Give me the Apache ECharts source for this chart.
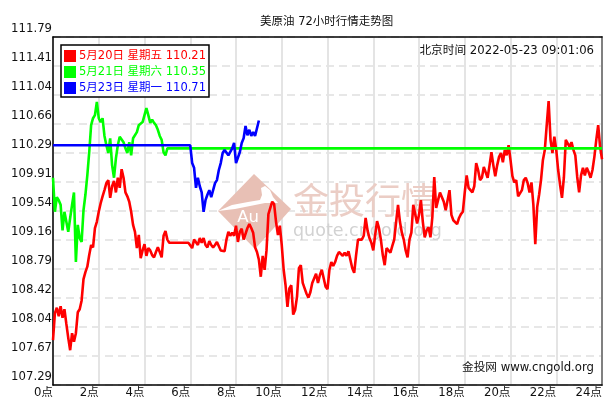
<!DOCTYPE html>
<html>
<head>
<meta charset="utf-8">
<style>html,body{margin:0;padding:0;background:#fff}#c{width:611px;height:405px}</style>
<script src="https://cdn.jsdelivr.net/npm/echarts@6/dist/echarts.min.js"></script>
</head>
<body>
<div id="c"></div>
<script>
const stepMinutes = 5;
const hourTicks = 120;
const legendNames = ['5月20日 星期五 110.21', '5月21日 星期六 110.35', '5月23日 星期一 110.71'];
const seriesColors = ['#ff0000', '#00ff00', '#0000ff'];
const yTickValues = [107.29,107.665,108.04,108.415,108.79,109.165,109.54,109.915,110.29,110.665,111.04,111.415,111.79];
const yTickLabels = ['107.29','107.67','108.04','108.42','108.79','109.16','109.54','109.91','110.29','110.66','111.04','111.41','111.79'];

const may20 = [
107.87,108.22,108.29,108.18,108.31,108.16,108.27,108.08,107.90,107.74,107.96,107.85,
107.96,108.23,108.27,108.38,108.66,108.75,108.82,108.97,109.10,109.07,109.32,109.40,
109.53,109.64,109.73,109.81,109.90,109.94,109.71,109.86,109.93,109.78,109.97,109.84,
110.08,109.97,109.78,109.73,109.66,109.53,109.36,109.27,109.06,109.23,108.93,109.03,
109.11,108.96,109.06,109.03,108.97,108.94,109.01,109.07,109.01,108.94,109.22,109.28,
109.17,109.13,109.13,109.13,109.13,109.13,109.13,109.13,109.13,109.13,109.13,109.13,
109.13,109.06,109.17,109.19,109.10,109.19,109.13,109.19,109.10,109.07,109.15,109.10,
109.07,109.10,109.14,109.14,109.03,109.03,109.02,109.17,109.27,109.22,109.26,109.22,
109.35,109.14,109.27,109.31,109.17,109.19,109.32,109.37,109.32,109.26,109.07,109.01,
108.91,108.69,108.96,108.78,109.03,109.50,109.58,109.66,109.63,109.40,109.23,109.35,
109.10,108.78,108.58,108.30,108.54,108.58,108.20,108.26,108.43,108.80,108.84,108.61,
108.54,108.47,108.42,108.49,108.61,108.60,108.73,108.61,108.71,108.78,108.78,108.56,
108.53,108.78,108.88,108.83,108.88,108.96,109.01,109.02,108.96,109.00,108.96,109.02,
109.03,108.80,108.74,108.97,109.17,109.19,109.17,109.22,109.45,109.29,109.19,109.13,
109.03,109.23,109.41,109.32,109.17,108.97,108.84,109.06,109.03,109.00,109.09,109.17,
109.40,109.62,109.40,109.26,109.17,109.03,108.94,109.17,109.26,109.62,109.64,109.38,
109.49,109.68,109.40,109.20,109.29,109.33,109.20,109.46,109.98,109.58,109.68,109.78,
109.77,109.66,109.55,109.68,109.81,109.49,109.42,109.44,109.37,109.45,109.50,109.53,
109.78,110.00,109.84,109.81,109.78,109.86,110.16,110.07,109.94,109.97,110.11,110.04,
109.97,110.13,110.30,110.13,109.99,110.13,110.24,110.29,110.17,110.33,110.26,110.39,
110.20,109.99,109.91,109.94,109.73,109.71,109.81,109.94,109.97,109.90,109.78,109.91,
109.62,109.11,109.59,109.75,109.94,110.20,110.33,110.65,110.96,110.46,110.29,110.50,
110.33,110.07,109.88,109.71,109.97,110.46,110.48,110.37,110.43,110.33,110.26,109.98,
109.78,110.00,110.10,110.00,110.10,110.04,109.97,110.07,110.24,110.46,110.65,110.37,
110.21];

const may21 = [
109.97,109.53,109.72,109.68,109.62,109.29,109.53,109.40,109.27,109.45,109.62,109.78,
108.88,109.36,109.19,109.14,109.55,109.75,110.00,110.30,110.65,110.74,110.78,110.95,
110.74,110.69,110.74,110.51,110.39,110.29,110.48,110.13,109.97,110.22,110.39,110.50,
110.51,110.43,110.35,110.29,110.43,110.26,110.48,110.46,110.56,110.65,110.63,110.69,
110.78,110.87,110.78,110.68,110.72,110.68,110.65,110.59,110.51,110.46,110.30,110.26,
110.35];
const may21Close = 110.35;

const may23Open = 110.39;
const may23FromSix = [
110.39,110.16,110.10,109.84,109.97,109.86,109.78,109.53,109.68,109.75,109.81,109.72,
109.81,109.90,109.94,110.07,110.16,110.29,110.33,110.35,110.26,110.24,110.35,110.42,
110.16,110.17,110.30,110.42,110.48,110.64,110.52,110.59,110.51,110.56,110.51,110.50,
110.71];

const red = may20.map((v, i) => [i * stepMinutes, v]);
const green = may21.map((v, i) => [i * stepMinutes, v]).concat([[1440, may21Close]]);
const blue = [[0, may23Open]].concat(may23FromSix.map((v, i) => [360 + i * stepMinutes, v]));

const FONT = '"DejaVu Sans","Noto Sans CJK SC",sans-serif';
const chart = echarts.init(document.getElementById('c'), null, {renderer: 'canvas'});
const mk = (name, data, color) => ({
  name, type: 'line', data, showSymbol: false, symbol: 'none', animation: false,
  color, lineStyle: {color, width: 2.6}, itemStyle: {color}, emphasis: {disabled: true}, silent: true
});
chart.setOption({
  animation: false,
  backgroundColor: '#fff',
  textStyle: {fontFamily: FONT},
  grid: {left: 53, right: 9, top: 37, bottom: 20, containLabel: false},
  title: [
    {text: '美原油 72小时行情走势图', left: 260, top: 16, padding: 0,
      textStyle: {fontSize: 11.5, fontWeight: 'normal', color: '#111', fontFamily: FONT}},
    {text: '北京时间 2022-05-23 09:01:06', right: 17, top: 45, padding: 0,
      textStyle: {fontSize: 11.7, fontWeight: 'normal', color: '#111', fontFamily: FONT}},
    {text: '金投网 www.cngold.org', right: 17, top: 362, padding: 0,
      textStyle: {fontSize: 11.7, fontWeight: 'normal', color: '#111', fontFamily: FONT}}
  ],
  legend: {
    orient: 'vertical', left: 61, top: 45, padding: [5, 3, 3, 3], itemGap: 4,
    itemWidth: 12, itemHeight: 12, icon: 'rect', selectedMode: false,
    backgroundColor: '#fff', borderColor: '#000', borderWidth: 1.5, borderRadius: 0, z: 10,
    data: legendNames.map((name, i) => ({name, textStyle: {color: seriesColors[i], fontSize: 11.5, fontFamily: FONT, padding: [0, 0, 0, -2]}}))
  },
  xAxis: [{
    type: 'value', min: 0, max: 1440, interval: hourTicks,
    axisLine: {show: true, onZero: false, lineStyle: {color: '#000', width: 1.5}},
    axisTick: {show: false},
    axisLabel: {align: 'right', margin: 2, color: '#111', fontSize: 11.7, fontFamily: FONT,
      formatter: v => (v / 60) + '点', showMinLabel: true, showMaxLabel: true},
    splitLine: {show: true, lineStyle: {color: '#e4e4e4', width: 2}}
  }, {
    type: 'value', position: 'top', min: 0, max: 1440,
    axisLine: {show: true, onZero: false, lineStyle: {color: '#000', width: 1.5}},
    axisTick: {show: false}, axisLabel: {show: false}, splitLine: {show: false}
  }],
  yAxis: [{
    type: 'value', min: 107.29, max: 111.79,
    axisLine: {show: true, onZero: false, lineStyle: {color: '#000', width: 1.5}},
    axisTick: {show: false, customValues: yTickValues},
    axisLabel: {customValues: yTickValues, margin: 1, color: '#111', fontSize: 11.7, fontFamily: FONT,
      verticalAlign: 'bottom', lineHeight: 14, padding: [0, 0, 1, 0],
      formatter: v => yTickLabels[yTickValues.indexOf(v)]},
    splitLine: {show: true, lineStyle: {color: '#e0e0e0', width: 1.5, type: [8, 5]}}
  }, {
    type: 'value', position: 'right', min: 107.29, max: 111.79,
    axisLine: {show: true, onZero: false, lineStyle: {color: '#808080', width: 2}},
    axisTick: {show: false}, axisLabel: {show: false}, splitLine: {show: false}
  }],
  graphic: [
    {type: 'polygon', z: 1, shape: {points: [[218, 211], [254, 174], [291, 209], [255, 249]]}, style: {fill: '#e8c0b5'}, silent: true},
    {type: 'polygon', z: 1, shape: {points: [[218,211],[232,205],[248,202],[260,200],[262,195],[261,188],[265,186],[270,190],[273,197],[278,203],[265,203],[250,206],[235,209]]}, style: {fill: '#ffffff'}, silent: true},
    {type: 'text', z: 1, style: {text: 'Au', x: 248, y: 218, align: 'center', verticalAlign: 'middle', fontSize: 16.5, fontFamily: FONT, fill: '#fff'}, silent: true},
    {type: 'text', z: 1, style: {text: '金投行情', x: 293, y: 200, verticalAlign: 'middle', fontSize: 36, fontFamily: '"Noto Sans CJK SC"', fill: '#ebcdc5'}, silent: true},
    {type: 'text', z: 1, style: {text: 'quote.cngold.org', x: 293, y: 231, verticalAlign: 'middle', fontSize: 17.5, fontFamily: FONT, fill: '#d2d2d2'}, silent: true}
  ],
  series: [
    mk(legendNames[0], red, seriesColors[0]),
    mk(legendNames[1], green, seriesColors[1]),
    mk(legendNames[2], blue, seriesColors[2])
  ]
});
</script>
</body>
</html>
